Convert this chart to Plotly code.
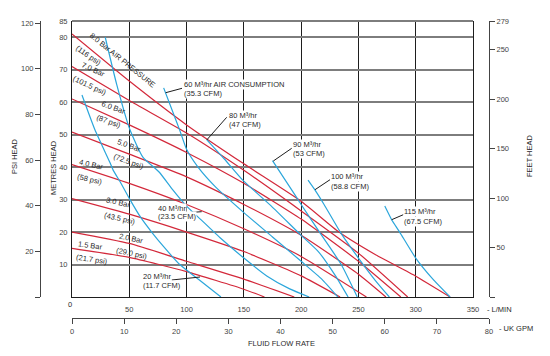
import plotly.graph_objects as go

# ---------------- data ----------------
# air-pressure curves: flow (L/min) vs head (m)
bar8_q = [0, 50, 100, 150, 200, 233, 265, 300, 330]
bar8_h = [81, 66.5, 53, 41, 29.5, 20, 13, 6.4, 0]
bar7_q = [0, 50, 100, 150, 200, 250, 293]
bar7_h = [71, 60.5, 50.5, 39, 26.5, 13.5, 0]
bar6_q = [0, 50, 100, 150, 200, 250, 287]
bar6_h = [61, 53, 44.5, 35, 24, 11, 0]
bar5_q = [0, 50, 100, 150, 200, 250, 274]
bar5_h = [50.8, 44, 37, 28.5, 19, 7, 0]
bar4_q = [0, 50, 100, 150, 200, 257]
bar4_h = [40.8, 35, 28.5, 21, 12.5, 0]
bar3_q = [0, 50, 100, 150, 200, 234]
bar3_h = [30.3, 25.5, 20, 14, 6.5, 0]
bar2_q = [0, 50, 100, 150, 194]
bar2_h = [20, 16.5, 11, 5.5, 0]
bar15_q = [0, 50, 100, 150, 168]
bar15_h = [15, 12.2, 7.8, 2.4, 0]

# air-consumption curves
c20_q = [8.7, 20, 33, 36, 42, 50.6, 60, 69.5, 80, 94, 112, 130]
c20_h = [62.2, 51.5, 41.5, 39, 35.5, 30, 24.5, 20, 15.5, 10, 5, 0]
c40_q = [29, 39, 50.6, 62, 76, 88, 100, 112, 130, 150, 170, 190, 207]
c40_h = [80, 65.5, 51.5, 43, 38.5, 33, 28, 24, 18, 12, 6.5, 2.5, 0]
c60_q = [80, 88, 94, 100, 110, 125, 150, 175, 200, 218, 232]
c60_h = [64.4, 57, 51.4, 45.5, 40, 34, 26, 18.5, 11, 5.5, 0]
c80_q = [117.7, 133, 149, 174, 200, 215, 230, 241]
c80_h = [48.4, 42.5, 36, 28, 19, 14, 6.5, 0]
c90_q = [175, 188, 200, 215, 235, 249]
c90_h = [42, 35, 28.5, 20.5, 10, 0]
c100_q = [206, 212, 220, 235, 250, 265, 277]
c100_h = [36, 33, 28.5, 19.5, 12, 5, 0]
c115_q = [273, 279, 286, 300, 315, 330]
c115_h = [28, 23.8, 20, 12, 5.5, 0]

# axis ticks
lmin_ticks = [50, 100, 150, 200, 250, 300, 350]
metre_ticks = [10, 20, 30, 40, 50, 60, 70, 80, 85]
psi_ticks = [0, 20, 40, 60, 80, 100, 120]
feet_ticks = [0, 50, 100, 150, 200, 250, 279]
gpm_ticks = [0, 10, 20, 30, 40, 50, 60, 70, 80]

pressure_labels = ["8.0 Bar AIR PRESSURE", "(116 psi)", "7.0 Bar", "(101.5 psi)",
                   "6.0 Bar", "(87 psi)", "5.0 Bar", "(72.5 psi)", "4.0 Bar", "(58 psi)",
                   "3.0 Bar", "(43.5 psi)", "2.0 Bar", "(29.0 psi)", "1.5 Bar", "(21.7 psi)"]
air_labels = ["60 M³/hr AIR CONSUMPTION", "(35.3 CFM)", "80 M³/hr", "(47 CFM)",
              "90 M³/hr", "(53 CFM)", "100 M³/hr", "(58.8 CFM)", "115 M³/hr", "(67.5 CFM)",
              "40 M³/hr", "(23.5 CFM)", "20 M³/hr", "(11.7 CFM)"]

# ---------------- geometry ----------------
W, H = 550, 356
ML, MR, MT, MB = 10, 10, 10, 10
PW, PH = W - ML - MR, H - MT - MB


def px(x):
    return (x - ML) / PW


def py(y):
    return (H - MB - y) / PH


RED = "#d3283a"
BLUE = "#2ba6db"
TXT = "#2a2a2a"
FONT = "Liberation Sans"
FS = 7.5
CLEAR = "rgba(0,0,0,0)"

fig = go.Figure()

for q, h in [(bar8_q, bar8_h), (bar7_q, bar7_h), (bar6_q, bar6_h), (bar5_q, bar5_h),
             (bar4_q, bar4_h), (bar3_q, bar3_h), (bar2_q, bar2_h), (bar15_q, bar15_h)]:
    fig.add_trace(go.Scatter(x=q, y=h, mode="lines", line=dict(color=RED, width=1.2, shape="spline", smoothing=0.5),
                             hoverinfo="skip", showlegend=False))

for q, h in [(c20_q, c20_h), (c40_q, c40_h), (c60_q, c60_h), (c80_q, c80_h),
             (c90_q, c90_h), (c100_q, c100_h), (c115_q, c115_h)]:
    fig.add_trace(go.Scatter(x=q, y=h, mode="lines", line=dict(color=BLUE, width=1.2, shape="spline", smoothing=0.5),
                             hoverinfo="skip", showlegend=False))

# dummy traces so that secondary axes are drawn
fig.add_trace(go.Scatter(x=[None], y=[None], yaxis="y2", showlegend=False, hoverinfo="skip"))
fig.add_trace(go.Scatter(x=[None], y=[None], yaxis="y3", showlegend=False, hoverinfo="skip"))
fig.add_trace(go.Scatter(x=[None], y=[None], xaxis="x2", yaxis="y4", showlegend=False, hoverinfo="skip"))

tickfont = dict(family=FONT, size=FS, color="#444")

fig.update_layout(
    width=W, height=H,
    margin=dict(l=ML, r=MR, t=MT, b=MB, autoexpand=False),
    paper_bgcolor="white", plot_bgcolor=CLEAR,
    xaxis=dict(domain=[px(72), px(473)], range=[0, 350], tickvals=lmin_ticks,
               showgrid=True, gridcolor="#1e1e1e", gridwidth=1, zeroline=False,
               showline=True, linecolor="#1e1e1e", linewidth=1, ticks="",
               ticklabelstandoff=5, tickfont=tickfont, fixedrange=True, automargin=False),
    yaxis=dict(domain=[py(297), py(21)], range=[0, 85], tickvals=metre_ticks,
               showgrid=True, gridcolor="#7d7d7d", gridwidth=2, zeroline=False,
               showline=True, mirror=True, linecolor="#1e1e1e", linewidth=1, ticks="",
               ticklabelstandoff=2, tickfont=tickfont, fixedrange=True, automargin=False),
    yaxis2=dict(overlaying="y", anchor="free", position=px(40), side="left",
                range=[0, 85 / 0.70307], tickvals=psi_ticks,
                ticktext=["" if v == 0 else str(v) for v in psi_ticks],
                showgrid=False, zeroline=False, showline=True, linecolor="#444", linewidth=1,
                ticks="outside", ticklen=5, tickcolor="#444", tickfont=tickfont, fixedrange=True,
                automargin=False),
    yaxis3=dict(overlaying="y", anchor="free", position=px(489), side="right",
                range=[0, 279], tickvals=feet_ticks,
                ticktext=["" if v == 0 else str(v) for v in feet_ticks],
                showgrid=False, zeroline=False, showline=True, linecolor="#444", linewidth=1,
                ticks="outside", ticklen=5, tickcolor="#444", tickfont=tickfont, fixedrange=True,
                automargin=False),
    xaxis2=dict(anchor="free", position=py(318), domain=[px(72), px(489)], side="bottom",
                range=[0, 80], tickvals=gpm_ticks,
                showgrid=False, zeroline=False, showline=True, linecolor="#444", linewidth=1,
                ticks="outside", ticklen=5, tickcolor="#444", tickfont=tickfont, fixedrange=True,
                ticklabelstandoff=1, automargin=False),
    yaxis4=dict(anchor="x2", domain=[py(297), py(21)], range=[0, 1], visible=False,
                showgrid=False, zeroline=False, fixedrange=True),
)

# top border (gray like the horizontal grid)
fig.add_shape(type="line", xref="paper", yref="paper", x0=px(72), x1=px(473), y0=py(21), y1=py(21),
              line=dict(color="#7d7d7d", width=2))

ann = []


def add_text(text, x, y, angle=0, anchor="center", bg=None):
    d = dict(text=text, x=px(x), y=py(y), xref="paper", yref="paper", showarrow=False,
             xanchor=anchor, yanchor="middle", textangle=angle,
             font=dict(family=FONT, size=FS, color=TXT))
    if bg:
        d.update(bgcolor=bg, borderpad=0)
    ann.append(d)


# pressure labels (rotated)
p_pos = [(123, 60, 39), (88.5, 55.5, 35), (93, 69.5, 25), (89.5, 85, 25),
         (113, 108, 20), (109, 121.5, 20), (129, 145, 20), (128.5, 161, 20),
         (91, 164.5, 13), (90, 179.5, 13), (118.3, 202.5, 13), (119.5, 218, 13),
         (131.2, 238, 12), (131.7, 253, 12), (90.2, 245, 8), (92, 259.5, 8)]
for t, (x, y, a) in zip(pressure_labels, p_pos):
    add_text(t, x, y, a)

# air consumption labels
a_pos = [(183, 84.5), (183, 93), (228, 115.8), (228, 124.5), (291.5, 144.5), (291.5, 153),
         (330, 176.3), (330, 186), (403.3, 211.7), (403.3, 221), (157, 208.5), (157, 216.5),
         (141.7, 276.7), (141.7, 285.5)]
for t, (x, y) in zip(air_labels, a_pos):
    add_text(t, x, y, 0, "left", "white")

# pointer lines
pointers = [((165.7, 92.7), (182, 88.3)), ((226.7, 117.3), (206.7, 140)), ((291.7, 148.3), (273.3, 161)),
            ((330, 179.7), (315, 189.7)), ((403.3, 214.7), (391.7, 219.7)), ((186.7, 212.7), (201.7, 211.7)),
            ((171.7, 280), (200, 277))]
for (x0, y0), (x1, y1) in pointers:
    fig.add_shape(type="line", xref="paper", yref="paper", x0=px(x0), y0=py(y0), x1=px(x1), y1=py(y1),
                  line=dict(color="#1e1e1e", width=1))

# axis titles & extra labels
add_text("PSI HEAD", 14, 156, -90)
add_text("METRES HEAD", 53, 168, -90)
add_text("FEET HEAD", 529, 156, -90)
add_text("FLUID FLOW RATE", 281, 343)
add_text("0", 70, 304)
add_text("- L/MIN", 485, 309.5, 0, "left")
add_text("- UK GPM", 497, 328, 0, "left")

fig.update_layout(annotations=ann)
fig.write_html("out.html", config={"displayModeBar": False},
               post_script="document.body.style.margin='0px';document.body.style.overflow='hidden';")
